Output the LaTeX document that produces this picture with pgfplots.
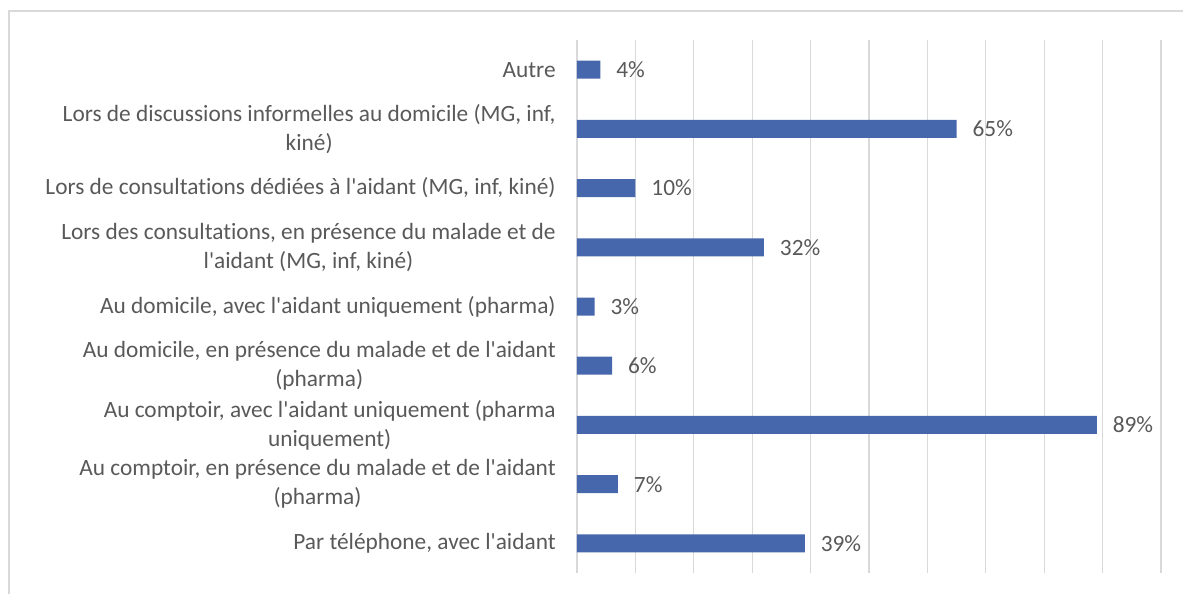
\documentclass[border=0pt]{standalone}
\usepackage{pgfplots}
\pgfplotsset{compat=1.18}
\usepackage{fontspec}
\setmainfont{Carlito}[Ligatures=NoCommon]
\newcommand\q{\textquotesingle}
\definecolor{barblue}{HTML}{4767AD}
\definecolor{txt}{HTML}{595959}
\definecolor{gridc}{HTML}{D9D9D9}
\begin{document}
\fontsize{17.5}{21.75}\selectfont
\begin{tikzpicture}
\path[use as bounding box] (0,0) rectangle (887.25pt,445.5pt);
\draw[gridc, line width=1.2pt] (6.75pt,0pt) -- (6.75pt,437.25pt) -- (887.25pt,437.25pt);
\begin{axis}[
  at={(432.75pt,15.75pt)}, anchor=south west,
  scale only axis, width=438pt, height=399.75pt,
  xbar, bar width=13.5pt,
  xmin=0, xmax=100,
  ymin=-0.5, ymax=8.5,
  xtick={0,10,...,100}, xticklabels={},
  xmajorgrids, grid style={gridc, line width=1pt},
  major tick length=0pt,
  ytick={0,...,8},
  yticklabels={{Par téléphone, avec l\q aidant},
    {Au comptoir, en présence du malade et de l\q aidant\\(pharma)},
    {Au comptoir, avec l\q aidant uniquement (pharma\\uniquement)},
    {Au domicile, en présence du malade et de l\q aidant\\(pharma)},
    {Au domicile, avec l\q aidant uniquement (pharma)},
    {Lors des consultations, en présence du malade et de\\l\q aidant (MG, inf, kiné)},
    {Lors de consultations dédiées à l\q aidant (MG, inf, kiné)},
    {Lors de discussions informelles au domicile (MG, inf,\\kiné)},
    {Autre}},
  yticklabel style={align=center, text=txt, font=\fontsize{17.5}{21.75}\selectfont, xshift=-10pt},
  axis line style={draw=none},
  /pgf/number format/assume math mode=true,
  nodes near coords={\pgfmathprintnumber{\pgfplotspointmeta}\%},
  nodes near coords style={text=txt, font=\fontsize{17.5}{20}\selectfont, anchor=west, xshift=6pt},
  clip=false,
]
\addplot[fill=barblue, draw=none] coordinates {
(39,0) (7,1) (89,2) (6,3) (3,4) (32,5) (10,6) (65,7) (4,8)
};
\end{axis}
\end{tikzpicture}
\end{document}
